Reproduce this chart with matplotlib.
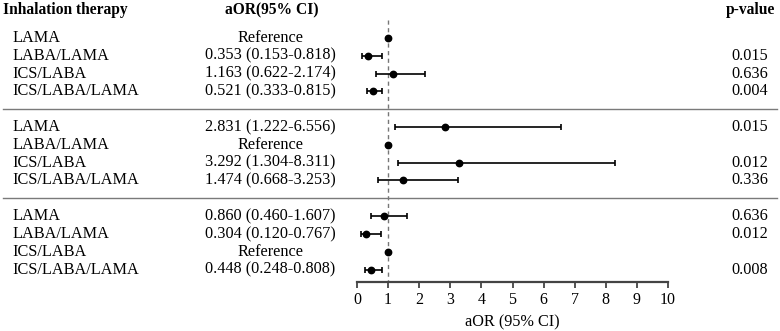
import matplotlib
matplotlib.use("Agg")
import matplotlib.pyplot as plt
from matplotlib.transforms import blended_transform_factory
from matplotlib.lines import Line2D

# Data
therapies = ["LAMA", "LABA/LAMA", "ICS/LABA", "ICS/LABA/LAMA"]
# one block per reference group (reference therapy gets aOR 1, no CI)
aor = [
    [1.0, 0.353, 1.163, 0.521],
    [2.831, 1.0, 3.292, 1.474],
    [0.860, 0.304, 1.0, 0.448],
]
ci_low = [
    [None, 0.153, 0.622, 0.333],
    [1.222, None, 1.304, 0.668],
    [0.460, 0.120, None, 0.248],
]
ci_high = [
    [None, 0.818, 2.174, 0.815],
    [6.556, None, 8.311, 3.253],
    [1.607, 0.767, None, 0.808],
]
p_values = [
    ["", "0.015", "0.636", "0.004"],
    ["0.015", "", "0.012", "0.336"],
    ["0.636", "0.012", "", "0.008"],
]
x_ticks = list(range(0, 11))

plt.rcParams["font.family"] = ["Liberation Serif", "DejaVu Serif"]

W, H = 780, 331
fig = plt.figure(figsize=(W / 100, H / 100), dpi=100)
ax = fig.add_axes([357 / W, 49 / H, 311 / W, 1 - 49 / H])

# slot layout: 4 rows per block, one empty slot between blocks
top_slot, bottom_slot = -2.135, 13.7
ax.set_ylim(bottom_slot, top_slot)
ax.set_xlim(0, 10)

tr = blended_transform_factory(fig.transFigure, ax.transData)
fs = 11.7

for b in range(len(aor)):
    for r, name in enumerate(therapies):
        y = b * 5 + r
        est = aor[b][r]
        lo, hi = ci_low[b][r], ci_high[b][r]
        if lo is not None:
            ax.errorbar(est, y, xerr=[[est - lo], [hi - est]], fmt="o",
                        color="black", ms=4.6, elinewidth=1.2, capsize=2.2,
                        capthick=1.2, zorder=3, clip_on=False)
            label = f"{est:.3f} ({lo:.3f}-{hi:.3f})"
        else:
            ax.plot(est, y, "o", color="black", ms=4.6, zorder=3, clip_on=False)
            label = "Reference"
        ax.text(12 / W, y, name, transform=tr, ha="left", va="center", fontsize=fs)
        ax.text(270 / W, y, label, transform=tr, ha="center", va="center", fontsize=fs)
        if p_values[b][r]:
            ax.text(768 / W, y, p_values[b][r], transform=tr, ha="right",
                    va="center", fontsize=fs)
    if b < len(aor) - 1:
        ysep = b * 5 + 4
        fig.add_artist(Line2D([3 / W, 777 / W], [ysep, ysep], transform=tr,
                              color="#7a7a7a", lw=1.0))

# headers
hy = -1.57
ax.text(3 / W, hy, "Inhalation therapy", transform=tr, ha="left", va="center",
        fontsize=11.2, fontweight="bold")
ax.text(272 / W, hy, "aOR(95% CI)", transform=tr, ha="center", va="center",
        fontsize=11.2, fontweight="bold")
ax.text(775 / W, hy, "p-value", transform=tr, ha="right", va="center",
        fontsize=11.2, fontweight="bold")

# reference line at aOR = 1
ax.vlines(1, -1.0, bottom_slot, colors="#777777", linestyles=(0, (3, 2.5)),
          lw=1.0, zorder=1)

for s in ["top", "right", "left"]:
    ax.spines[s].set_visible(False)
ax.spines["bottom"].set_linewidth(1.6)
ax.spines["bottom"].set_color("#444444")
ax.set_yticks([])
ax.set_xticks(x_ticks)
ax.tick_params(axis="x", direction="out", length=4, width=1.3, color="#444444",
               labelsize=11.5, pad=3.5)
ax.set_xlabel("aOR (95% CI)", fontsize=11.7, labelpad=4)
ax.patch.set_visible(False)

fig.savefig("out.png", dpi=100)
